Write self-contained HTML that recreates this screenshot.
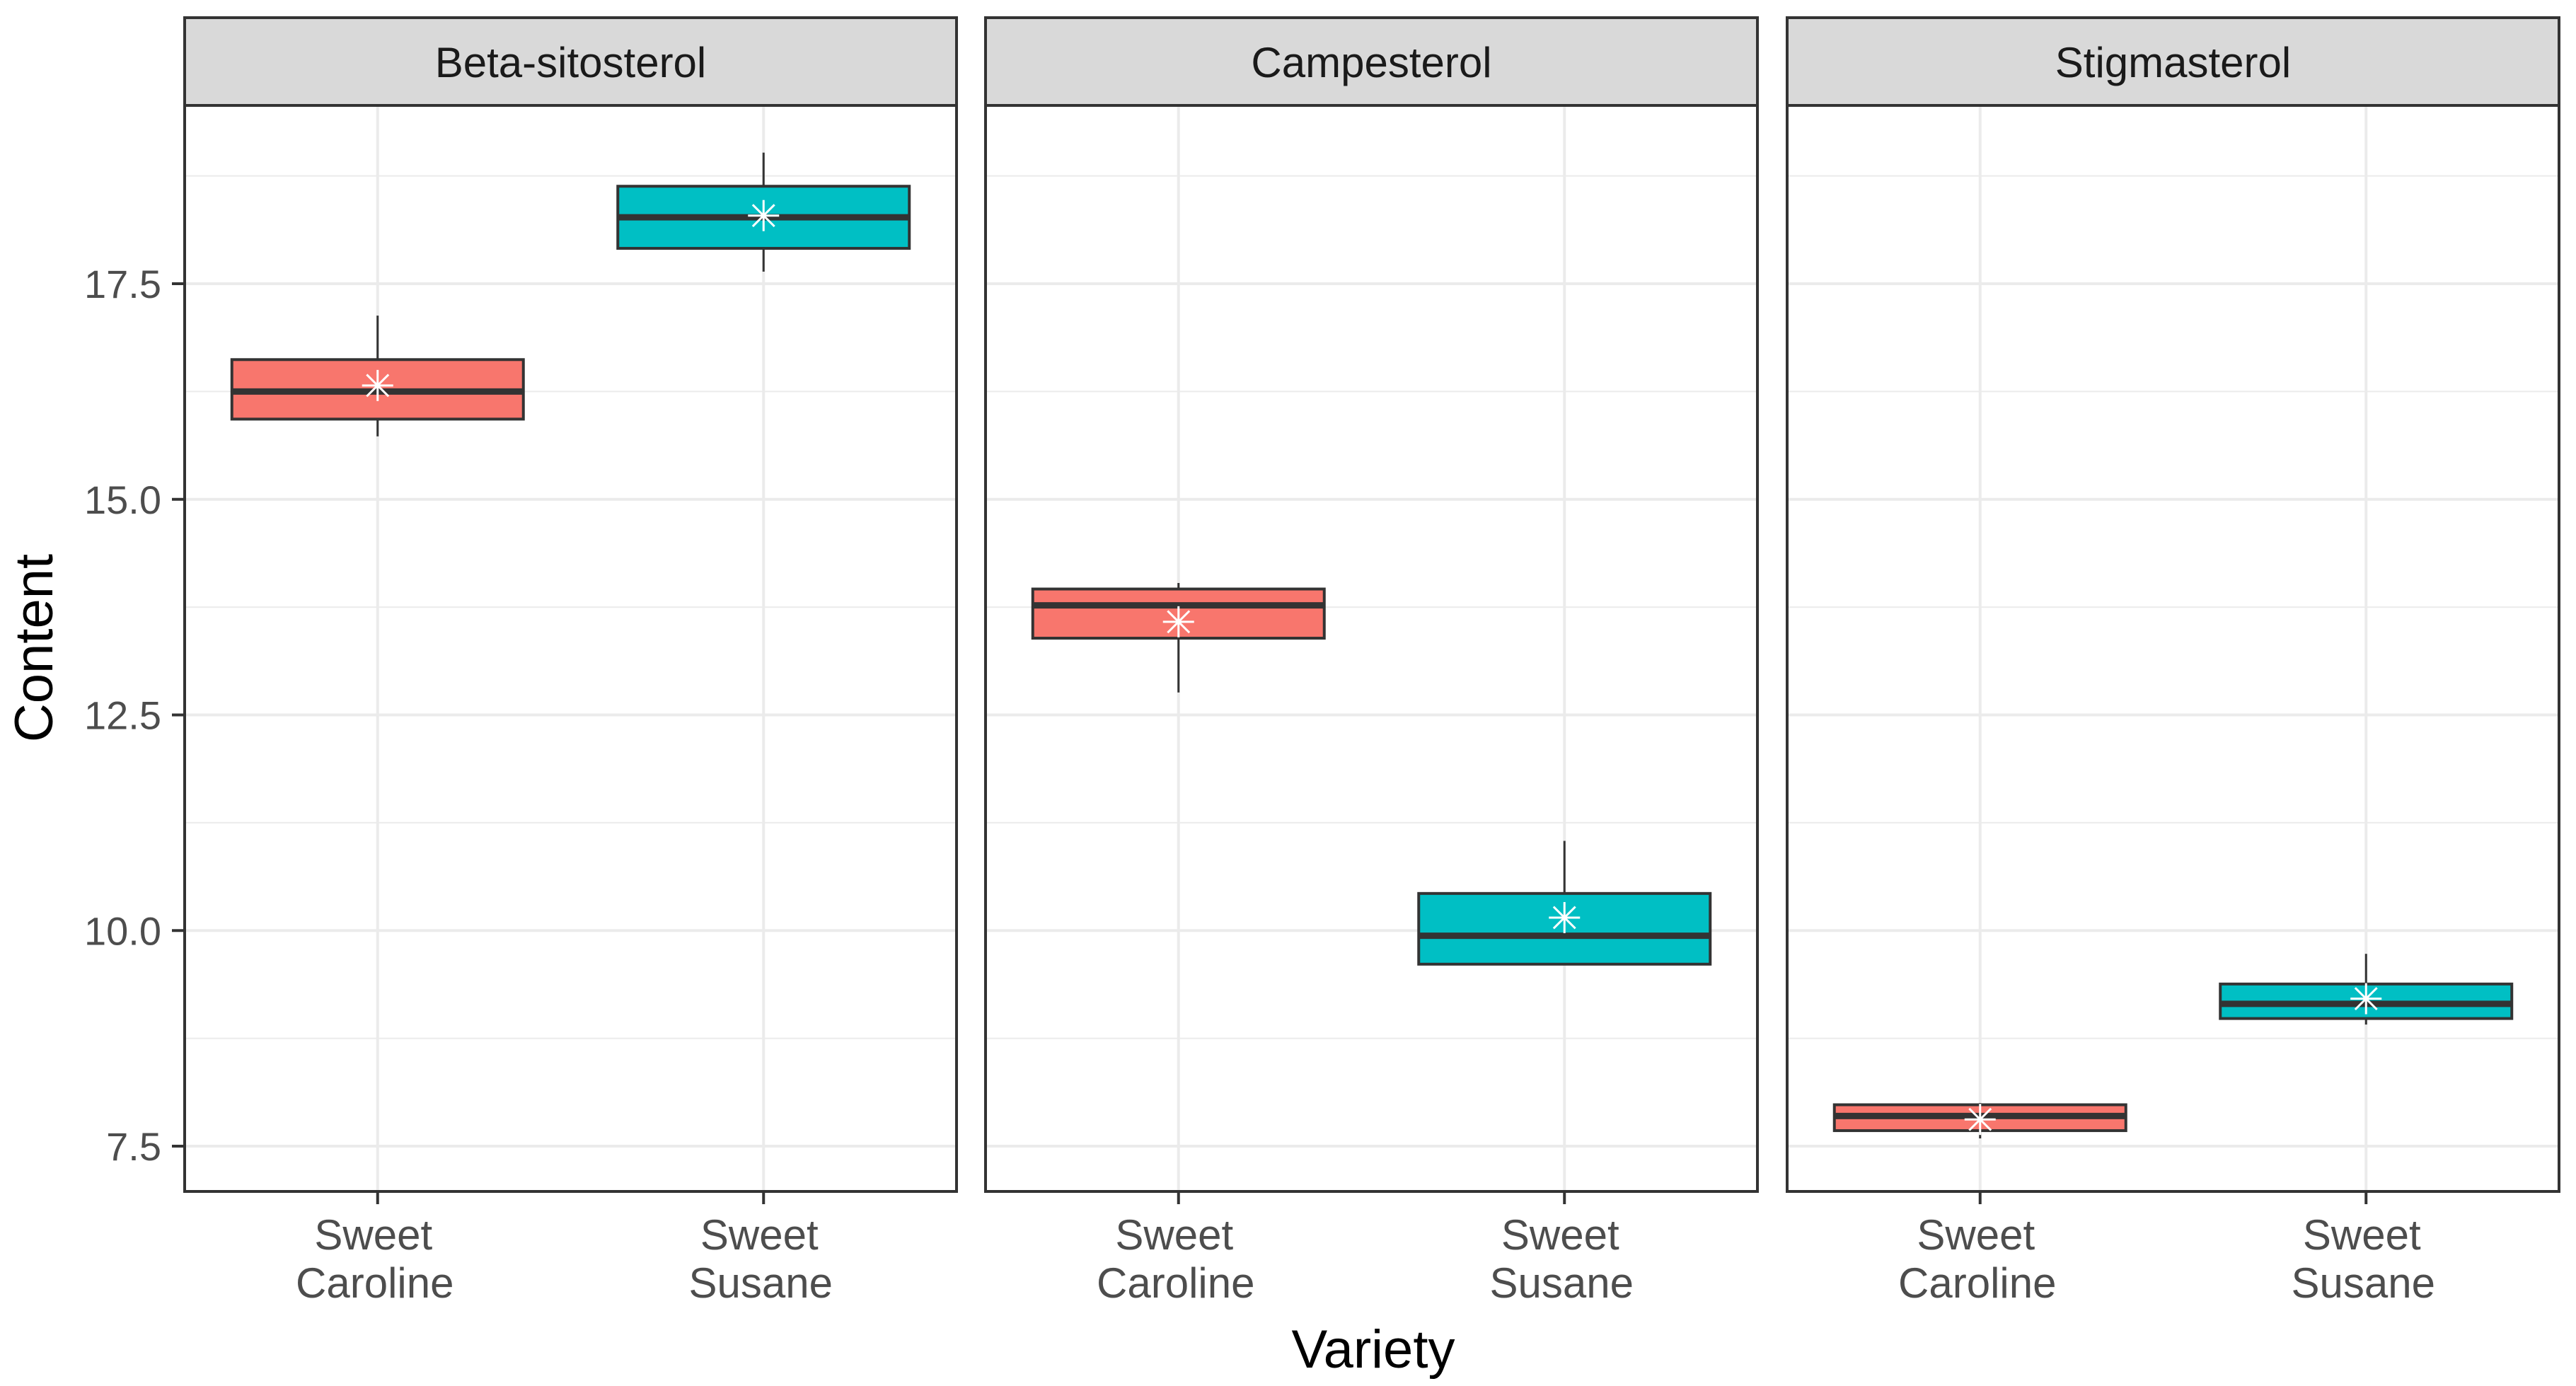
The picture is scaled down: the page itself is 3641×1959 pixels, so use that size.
<!DOCTYPE html>
<html><head><meta charset="utf-8"><style>
html,body{margin:0;padding:0;background:#fff;}
svg{display:block;font-family:"Liberation Sans",Arial,sans-serif;}
</style></head><body>
<svg id="chart" width="3641" height="1959" viewBox="0 0 3641 1959" xmlns="http://www.w3.org/2000/svg"></svg>
<script>
const facets = ["Beta-sitosterol","Campesterol","Stigmasterol"];
const categories = ["Sweet Caroline","Sweet Susane"];
const yTicks = [7.5,10.0,12.5,15.0,17.5];
const yTickLabels = ["7.5","10.0","12.5","15.0","17.5"];
// per facet, per category: [whiskerLow, q1, median, q3, whiskerHigh]
const statsCaroline = [[15.73,15.93,16.25,16.62,17.13],[12.76,13.39,13.77,13.96,14.03],[7.59,7.68,7.85,7.98,8.0]];
const statsSusane = [[17.64,17.91,18.27,18.63,19.02],[9.61,9.61,9.94,10.43,11.04],[8.91,8.98,9.15,9.38,9.73]];
const meansCaroline = [16.32,13.58,7.81];
const meansSusane = [18.29,10.15,9.21];
const fills = ["#F8766D","#00BFC4"];

const svg = document.getElementById('chart');
const NS = "http://www.w3.org/2000/svg";
function mk(tag, attrs, parent){const e=document.createElementNS(NS,tag);for(const k in attrs)e.setAttribute(k,attrs[k]);(parent||svg).appendChild(e);return e;}

const panelLefts=[261,1393,2526], panelW=1091, stripTop=25, stripBot=149, panelBot=1684;
function y(v){return 1620-(v-7.5)*121.9;}
function x(p,i){return panelLefts[p]+panelW*(0.25+0.5*i);}
const boxW=412;

facets.forEach((f,p)=>{
  const L=panelLefts[p], R=L+panelW;
  const g=mk('g',{});
  
  
  const bg=mk('rect',{x:L,y:stripBot,width:panelW,height:panelBot-stripBot,fill:'#fff'},g);
  
  
  for(let t=8.75;t<19.5;t+=2.5){const gl=mk('line',{x1:L,x2:R,y1:y(t),y2:y(t),stroke:'#ebebeb','stroke-width':2},g);}
  yTicks.forEach(t=>{const gl=mk('line',{x1:L,x2:R,y1:y(t),y2:y(t),stroke:'#ebebeb','stroke-width':4},g);});
  categories.forEach((c,i)=>{const gl=mk('line',{x1:x(p,i),x2:x(p,i),y1:stripBot,y2:panelBot,stroke:'#ebebeb','stroke-width':4},g);});
  [statsCaroline[p],statsSusane[p]].forEach((s,i)=>{
    const cx=x(p,i);
    const wh=mk('line',{x1:cx,x2:cx,y1:y(s[4]),y2:y(s[3]),stroke:'#333','stroke-width':3},g);
    
    const wl=mk('line',{x1:cx,x2:cx,y1:y(s[1]),y2:y(s[0]),stroke:'#333','stroke-width':3},g);
    
    const b=mk('rect',{x:cx-boxW/2,y:y(s[3]),width:boxW,height:y(s[1])-y(s[3]),fill:fills[i],stroke:'#333','stroke-width':4},g);
    
    const m=mk('line',{x1:cx-boxW/2,x2:cx+boxW/2,y1:y(s[2]),y2:y(s[2]),stroke:'#333','stroke-width':9},g);
    
    const mv=(i?meansSusane:meansCaroline)[p], my=y(mv), r=22;
    const star=mk('g',{stroke:'#fff','stroke-width':3},g);
    
    mk('line',{x1:cx-r,x2:cx+r,y1:my,y2:my},star);
    mk('line',{x1:cx,x2:cx,y1:my-r,y2:my+r},star);
    mk('line',{x1:cx-r*0.7,x2:cx+r*0.7,y1:my-r*0.7,y2:my+r*0.7},star);
    mk('line',{x1:cx-r*0.7,x2:cx+r*0.7,y1:my+r*0.7,y2:my-r*0.7},star);
  });
  const border=mk('rect',{x:L,y:stripBot,width:panelW,height:panelBot-stripBot,fill:'none',stroke:'#333','stroke-width':4},g);
  
  const strip=mk('rect',{x:L,y:stripTop,width:panelW,height:stripBot-stripTop,fill:'#d9d9d9',stroke:'#333','stroke-width':4},g);
  
  const st=mk('text',{x:L+panelW/2,y:109,'text-anchor':'middle','font-size':60,fill:'#1a1a1a'},g);
  st.textContent=f;
  categories.forEach((c,i)=>{
    const cx=x(p,i);
    const tk=mk('line',{x1:cx,x2:cx,y1:panelBot,y2:panelBot+18,stroke:'#333','stroke-width':4},g);
    
    const parts=c.split(' ');
    const t=mk('text',{x:cx-6,y:1766,'text-anchor':'middle','font-size':60,fill:'#4d4d4d'},g);
    
    const s1=mk('tspan',{x:cx-6,y:1766},t);s1.textContent=parts[0];
    const s2=mk('tspan',{x:cx-4,y:1834},t);s2.textContent=parts[1];
  });
});
yTicks.forEach((t,i)=>{
  const tk=mk('line',{x1:243,x2:261,y1:y(t),y2:y(t),stroke:'#333','stroke-width':4});
  
  const l=mk('text',{x:228,y:y(t)+20,'text-anchor':'end','font-size':56,fill:'#4d4d4d'});
  l.textContent=yTickLabels[i];
});
const yt=mk('text',{x:0,y:0,'text-anchor':'middle','font-size':76,fill:'#000',transform:'translate(74,916) rotate(-90)'});
yt.textContent='Content';
const xt=mk('text',{x:1941,y:1933,'text-anchor':'middle','font-size':76,fill:'#000'});
xt.textContent='Variety';
</script>
</body></html>
